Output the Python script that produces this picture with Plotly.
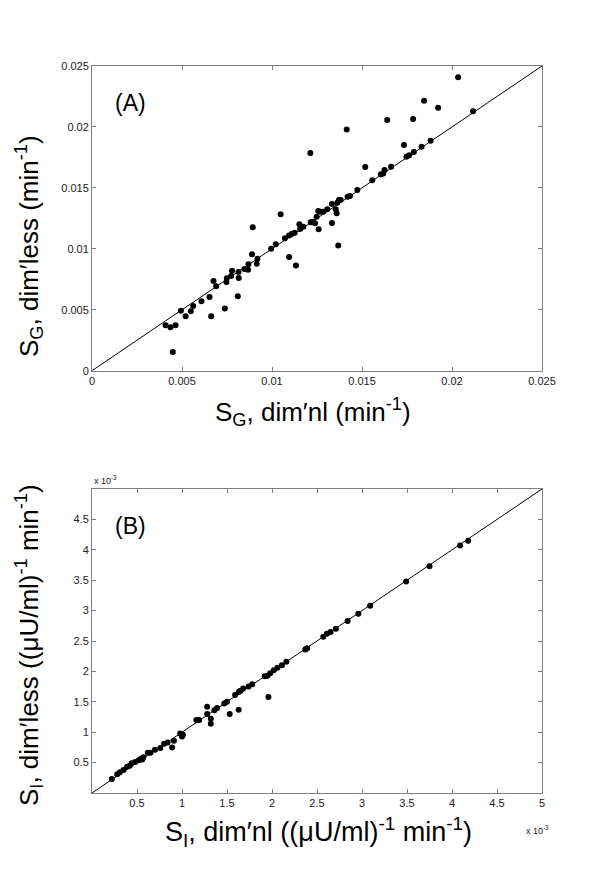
import plotly.graph_objects as go

# Panel A: S_G dimensional (x) vs dimensionless (y)
sg_dimnl = [0.02034, 0.02117, 0.01845, 0.01923, 0.0164, 0.01784, 0.01415, 0.01213, 0.01733, 0.01747,
            0.01762, 0.01788, 0.01831, 0.01881, 0.01518, 0.01557, 0.01605, 0.01625, 0.01618, 0.01662,
            0.01474, 0.01433, 0.0142, 0.01372, 0.01363, 0.01381, 0.01333, 0.01354, 0.01359, 0.01307,
            0.01285, 0.01267, 0.01257, 0.01248, 0.01226, 0.01215, 0.01239, 0.01259, 0.01333, 0.01368,
            0.01152, 0.01174, 0.01156, 0.01126, 0.01109, 0.01095, 0.01072, 0.01048, 0.01021, 0.00995,
            0.01095, 0.01133, 0.00893, 0.00889, 0.00919, 0.00915, 0.00869, 0.00847, 0.00867, 0.00814,
            0.00778, 0.00773, 0.00749, 0.00747, 0.00815, 0.0081, 0.00738, 0.00675, 0.0069, 0.00653,
            0.00662, 0.00608, 0.00562, 0.00549, 0.00494, 0.0052, 0.00409, 0.00436, 0.00464, 0.00449]
sg_dimless = [0.02407, 0.02128, 0.02215, 0.02158, 0.02057, 0.02065, 0.01978, 0.01786, 0.01852, 0.01756,
              0.01767, 0.01794, 0.01838, 0.01887, 0.01671, 0.01562, 0.01611, 0.01647, 0.01619, 0.01674,
              0.01482, 0.01433, 0.01428, 0.014, 0.01379, 0.014, 0.01368, 0.01324, 0.01291, 0.01324,
              0.01305, 0.01305, 0.0131, 0.01264, 0.01223, 0.01217, 0.01209, 0.0116, 0.01212, 0.01028,
              0.01201, 0.01182, 0.01162, 0.01132, 0.01121, 0.0111, 0.01086, 0.01283, 0.01037, 0.01001,
              0.00933, 0.00864, 0.01176, 0.00955, 0.00919, 0.00878, 0.00873, 0.00834, 0.00829, 0.0081,
              0.00821, 0.00777, 0.00758, 0.00728, 0.0076, 0.0061, 0.00511, 0.00736, 0.00692, 0.00605,
              0.00446, 0.00569, 0.00531, 0.00487, 0.00492, 0.00446, 0.00372, 0.00356, 0.00372, 0.00153]

# Panel B: S_I dimensional (x) vs dimensionless (y), in units of 1e-3
si_dimnl = [4.18, 4.09, 3.75, 3.49, 3.09, 2.96, 2.84, 2.71, 2.65, 2.61, 2.57, 2.39, 2.37, 2.16, 2.11,
            2.06, 2.02, 1.98, 1.95, 1.92, 1.96, 1.78, 1.74, 1.68, 1.65, 1.63, 1.59, 1.63, 1.53, 1.50,
            1.47, 1.39, 1.36, 1.28, 1.28, 1.32, 1.32, 1.19, 1.16, 1.00, 0.98, 0.91, 0.89, 0.80, 0.76,
            0.70, 0.65, 0.62, 0.56, 0.57, 0.52, 0.48, 0.44, 0.39, 0.35, 0.31, 0.28, 0.22, 0.42, 0.54,
            1.01, 0.84]
si_dimless = [4.15, 4.07, 3.73, 3.48, 3.08, 2.95, 2.83, 2.70, 2.65, 2.62, 2.57, 2.38, 2.36, 2.16, 2.10,
              2.06, 2.02, 1.97, 1.93, 1.92, 1.58, 1.79, 1.75, 1.72, 1.68, 1.66, 1.61, 1.37, 1.30, 1.50,
              1.47, 1.40, 1.36, 1.42, 1.30, 1.22, 1.14, 1.20, 1.20, 0.93, 0.98, 0.86, 0.75, 0.81, 0.74,
              0.71, 0.66, 0.66, 0.55, 0.59, 0.54, 0.51, 0.49, 0.43, 0.38, 0.34, 0.31, 0.23, 0.45, 0.56,
              0.96, 0.83]

a_ticks = [0, 0.005, 0.01, 0.015, 0.02, 0.025]
a_ticktext = ["0", "0.005", "0.01", "0.015", "0.02", "0.025"]
b_xticks = [0.5, 1, 1.5, 2, 2.5, 3, 3.5, 4, 4.5, 5]
b_yticks = [0.5, 1, 1.5, 2, 2.5, 3, 3.5, 4, 4.5]
a_range = [0, 0.025]
b_range = [0, 5]

scale = 1e-3
fig = go.Figure()

mk = dict(color="black", size=6)
fig.add_trace(go.Scatter(x=a_range, y=a_range, mode="lines", line=dict(color="black", width=1),
                         xaxis="x", yaxis="y", showlegend=False, hoverinfo="skip"))
fig.add_trace(go.Scatter(x=sg_dimnl, y=sg_dimless, mode="markers", marker=mk,
                         xaxis="x", yaxis="y", showlegend=False))
fig.add_trace(go.Scatter(x=[v * scale for v in b_range], y=[v * scale for v in b_range], mode="lines",
                         line=dict(color="black", width=1), xaxis="x2", yaxis="y2", showlegend=False,
                         hoverinfo="skip"))
fig.add_trace(go.Scatter(x=[v * scale for v in si_dimnl], y=[v * scale for v in si_dimless],
                         mode="markers", marker=mk, xaxis="x2", yaxis="y2", showlegend=False))

# page has an 8px body margin: figure drawn at offset (8, 8)
OFF = 8
W, H = 600 - OFF, 892 - OFF


def px(x):
    return (x - OFF) / W


def py(y):
    return 1 - (y - OFF) / H


xdom = [px(92), px(542)]
FONT = "Arial, Liberation Sans"
ax_common = dict(showgrid=False, zeroline=False, showline=True, linecolor="#7f7f7f", linewidth=1,
                 mirror="ticks", ticks="inside", ticklen=4, tickcolor="#7f7f7f", automargin=False,
                 tickfont=dict(family=FONT, size=11, color="#222"))
lab_font = dict(family=FONT, size=26, color="black")
lab_font_b = dict(family=FONT, size=27, color="black")

fig.update_layout(
    width=W, height=H, paper_bgcolor="white", plot_bgcolor="white",
    margin=dict(l=0, r=0, t=0, b=0),
    xaxis=dict(domain=xdom, anchor="y", range=a_range, tickvals=a_ticks, ticktext=a_ticktext,
               **ax_common),
    yaxis=dict(domain=[py(370.7), py(66)], anchor="x", range=a_range, tickvals=a_ticks,
               ticktext=a_ticktext, **ax_common),
    xaxis2=dict(domain=xdom, anchor="y2", range=[v * scale for v in b_range],
                tickvals=[v * scale for v in b_xticks], ticktext=[f"{v:g}" for v in b_xticks],
                **ax_common),
    yaxis2=dict(domain=[py(793), py(489)], anchor="x2", range=[v * scale for v in b_range],
                tickvals=[v * scale for v in b_yticks], ticktext=[f"{v:g}" for v in b_yticks],
                **ax_common),
    annotations=[
        # axis titles
        dict(text="S<sub>G</sub>, dim′nl (min<sup>-1</sup>)", xref="paper", yref="paper",
             x=px(213), y=py(392), xanchor="left", yanchor="top", showarrow=False, font=lab_font),
        dict(text="S<sub>G</sub>, dim′less (min<sup>-1</sup>)", xref="paper", yref="paper",
             x=px(9), y=py(359), xanchor="left", yanchor="bottom", textangle=-90,
             showarrow=False, font=lab_font),
        dict(text="S<sub>I</sub>, dim′nl ((μU/ml)<sup>-1</sup> min<sup>-1</sup>)", xref="paper",
             yref="paper", x=px(163), y=py(811), xanchor="left", yanchor="top", showarrow=False,
             font=lab_font_b),
        dict(text="S<sub>I</sub>, dim′less ((μU/ml)<sup>-1</sup> min<sup>-1</sup>)", xref="paper",
             yref="paper", x=px(9), y=py(808), xanchor="left", yanchor="bottom", textangle=-90,
             showarrow=False, font=lab_font),
        # panel labels
        dict(text="(A)", xref="paper", yref="paper", x=px(113), y=py(88), xanchor="left",
             yanchor="top", showarrow=False, font=dict(family=FONT, size=23, color="black")),
        dict(text="(B)", xref="paper", yref="paper", x=px(113), y=py(511), xanchor="left",
             yanchor="top", showarrow=False, font=dict(family=FONT, size=23, color="black")),
        # exponent labels
        dict(text="x 10<sup>-3</sup>", xref="x2 domain", yref="y2 domain", x=0, y=1.0,
             xanchor="left", yanchor="bottom", yshift=1, showarrow=False,
             font=dict(family=FONT, size=9, color="#222")),
        dict(text="x 10<sup>-3</sup>", xref="paper", yref="paper", x=px(524), y=py(822),
             xanchor="left", yanchor="top", showarrow=False,
             font=dict(family=FONT, size=9, color="#222")),
    ],
)

fig.write_html("out.html")
